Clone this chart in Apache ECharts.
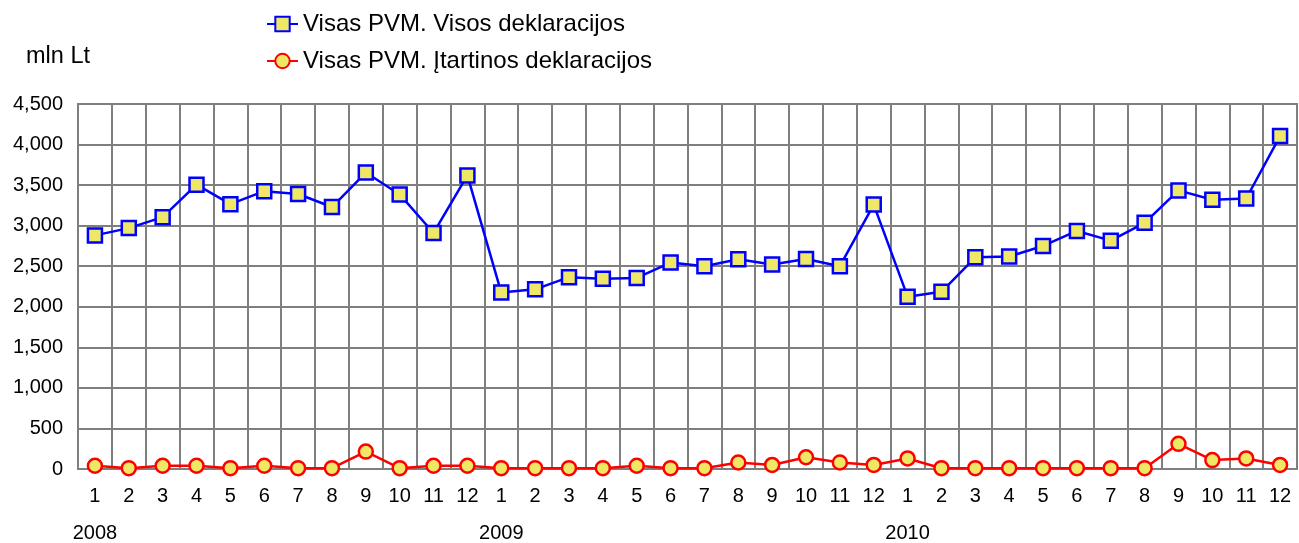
<!DOCTYPE html>
<html>
<head>
<meta charset="utf-8">
<script src="https://cdn.jsdelivr.net/npm/echarts@6/dist/echarts.min.js"></script>
<style>
html,body{margin:0;padding:0;background:#fff;}
#chart{width:1299px;height:543px;}
</style>
</head>
<body>
<div id="chart"></div>
<script>
var months = ['1','2','3','4','5','6','7','8','9','10','11','12',
              '1','2','3','4','5','6','7','8','9','10','11','12',
              '1','2','3','4','5','6','7','8','9','10','11','12'];
var yearLabels = ['2008','','','','','','','','','','','',
                  '2009','','','','','','','','','','','',
                  '2010','','','','','','','','','','',''];
var seriesNames = ['Visas PVM. Visos deklaracijos', 'Visas PVM. Įtartinos deklaracijos'];
var totalVat = [2880, 2970, 3105, 3505, 3265, 3425, 3390, 3230, 3655, 3385, 2910, 3620,
                2175, 2215, 2365, 2345, 2355, 2545, 2500, 2585, 2520, 2590, 2500, 3260,
                2125, 2185, 2610, 2620, 2750, 2935, 2815, 3035, 3435, 3320, 3335, 4105];
var suspiciousVat = [40, 10, 40, 40, 10, 40, 10, 10, 215, 10, 40, 40,
                     10, 10, 10, 10, 40, 10, 10, 80, 50, 145, 80, 50,
                     130, 10, 10, 10, 10, 10, 10, 10, 310, 110, 130, 50];
var unitLabel = 'mln Lt';
var yTicks = {min: 0, max: 4500, interval: 500};

var FONT = '"Liberation Sans", Arial, sans-serif';
var fill = '#EEE866';
var chart = echarts.init(document.getElementById('chart'), null, {renderer: 'canvas'});
chart.setOption({
  animation: false,
  backgroundColor: '#ffffff',
  textStyle: {fontFamily: FONT, color: '#000'},
  title: {
    text: unitLabel, left: 21, top: 40,
    textStyle: {fontFamily: FONT, fontSize: 23.5, fontWeight: 'normal', color: '#000'}
  },
  legend: [
    {
      data: [seriesNames[0]], left: 266, top: 12, padding: 0, itemWidth: 31, itemHeight: 18,
      textStyle: {fontFamily: FONT, fontSize: 24, color: '#000'}
    },
    {
      data: [seriesNames[1]], left: 266, top: 49, padding: 0, itemWidth: 31, itemHeight: 18,
      textStyle: {fontFamily: FONT, fontSize: 24, color: '#000'}
    }
  ],
  grid: {
    left: 78, right: 2, top: 104, bottom: 74,
    show: true, borderColor: '#7f7f7f', borderWidth: 2, containLabel: false
  },
  xAxis: [
    {
      type: 'category', data: months, boundaryGap: true, position: 'bottom',
      axisLine: {show: true, lineStyle: {color: '#7f7f7f', width: 2}},
      axisTick: {show: false},
      axisLabel: {interval: 0, margin: 17, fontSize: 20, color: '#000', fontFamily: FONT},
      splitLine: {show: true, interval: 0, lineStyle: {color: '#7f7f7f', width: 2}}
    },
    {
      type: 'category', data: yearLabels, boundaryGap: true, position: 'bottom', offset: 45,
      axisLine: {show: false}, axisTick: {show: false}, splitLine: {show: false},
      axisLabel: {interval: 0, margin: 9, fontSize: 20, color: '#000', fontFamily: FONT}
    }
  ],
  yAxis: {
    type: 'value', min: yTicks.min, max: yTicks.max, interval: yTicks.interval,
    axisLine: {show: true, lineStyle: {color: '#7f7f7f', width: 2}},
    axisTick: {show: false},
    axisLabel: {
      margin: 15, fontSize: 20, color: '#000', fontFamily: FONT,
      formatter: function (v) { return v.toLocaleString('en-US'); }
    },
    splitLine: {show: true, lineStyle: {color: '#7f7f7f', width: 2}}
  },
  series: [
    {
      name: seriesNames[0], type: 'line', data: totalVat, xAxisIndex: 0,
      symbol: 'rect', symbolSize: 14,
      lineStyle: {color: '#0000FF', width: 2.5},
      itemStyle: {color: fill, borderColor: '#0000FF', borderWidth: 2.5},
      z: 3
    },
    {
      name: seriesNames[1], type: 'line', data: suspiciousVat, xAxisIndex: 0,
      symbol: 'circle', symbolSize: 14,
      lineStyle: {color: '#FF0000', width: 2.5},
      itemStyle: {color: fill, borderColor: '#FF0000', borderWidth: 2.5},
      z: 4
    }
  ]
});
</script>
</body>
</html>
